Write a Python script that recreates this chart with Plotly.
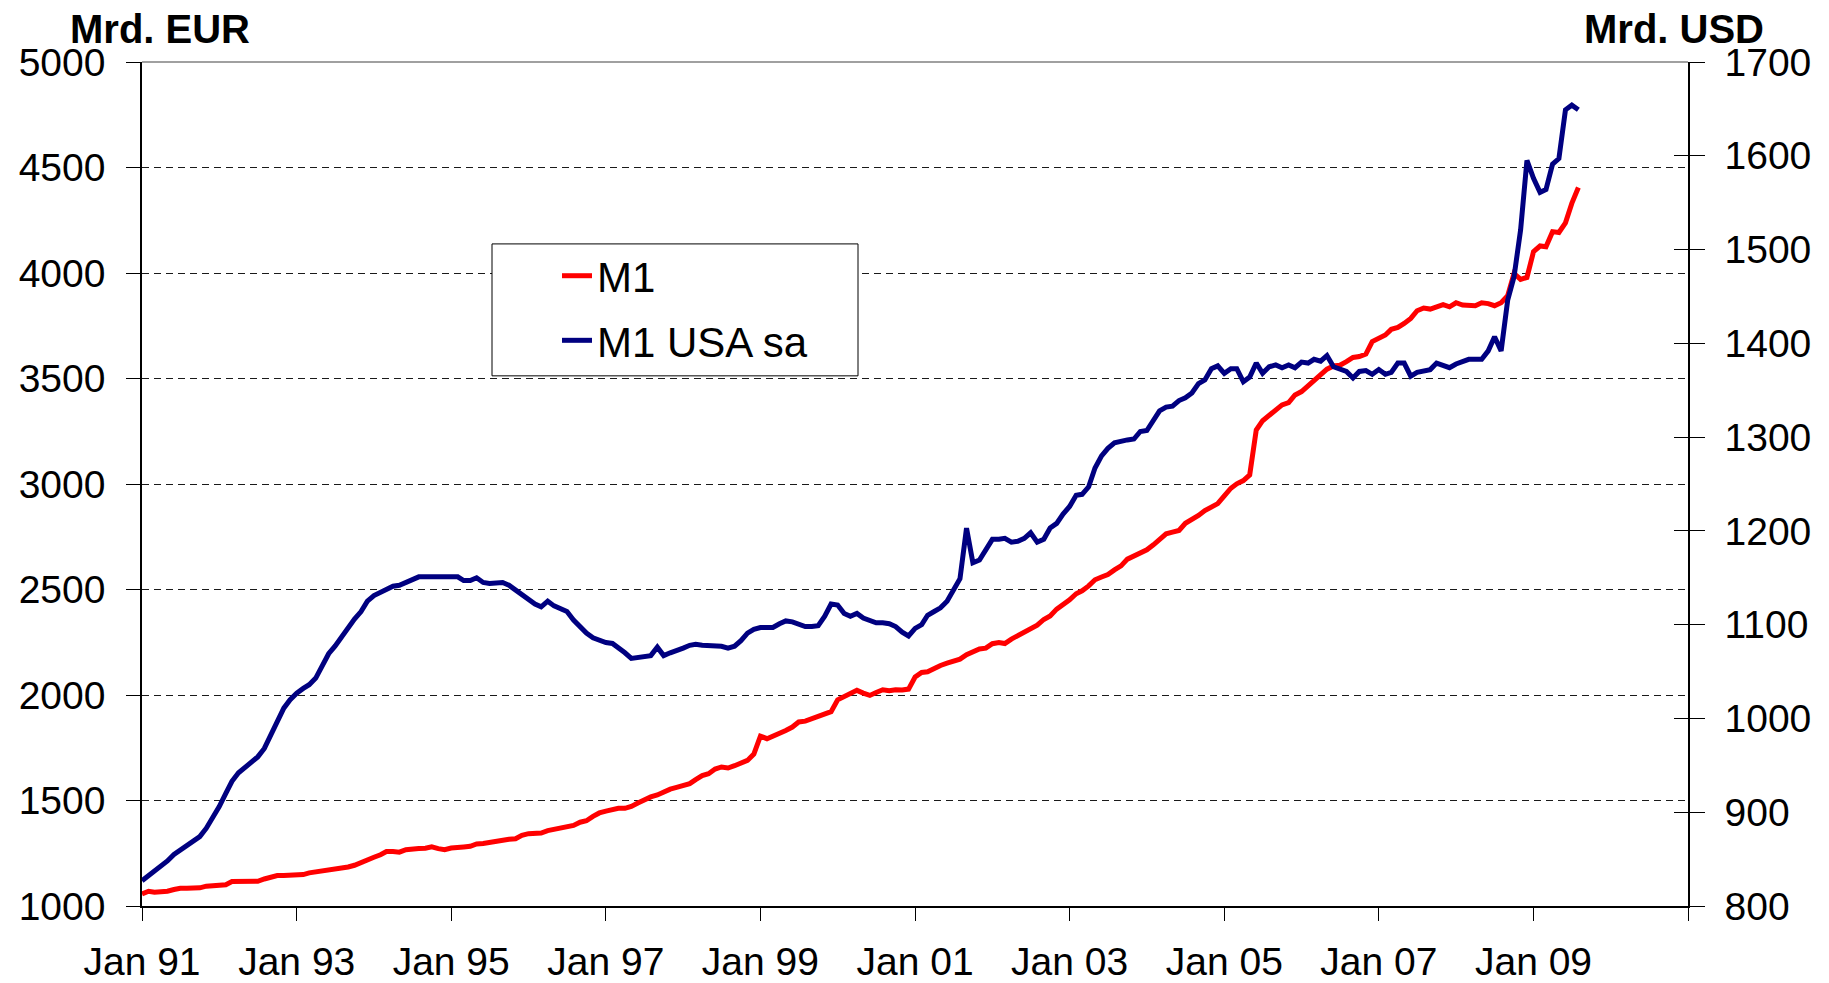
import pandas as pd
import plotly.graph_objects as go

# Monthly values, Jan 1991 .. Aug 2009
m1_eur = [
    1057, 1070, 1065, 1065, 1070, 1078, 1084, 1084, 1084, 1086, 1094, 1098,
    1098, 1101, 1116, 1116, 1112, 1117, 1117, 1128, 1138, 1144, 1144, 1144,
    1144, 1149, 1157, 1161, 1168, 1173, 1173, 1179, 1185, 1193, 1204, 1215,
    1231, 1243, 1258, 1258, 1255, 1267, 1267, 1272, 1274, 1280, 1272, 1267,
    1275, 1280, 1280, 1283, 1294, 1296, 1302, 1307, 1313, 1316, 1319, 1335,
    1343, 1343, 1346, 1357, 1362, 1370, 1376, 1382, 1397, 1404, 1425, 1441,
    1450, 1460, 1463, 1463, 1472, 1488, 1504, 1517, 1526, 1543, 1554, 1562,
    1570, 1580, 1599, 1618, 1627, 1649, 1659, 1654, 1665, 1678, 1690, 1720,
    1805, 1793, 1804, 1820, 1832, 1848, 1872, 1876, 1886, 1899, 1910, 1921,
    1977, 1993, 2006, 2022, 2009, 1998, 2012, 2025, 2020, 2025, 2024, 2028,
    2085, 2107, 2110, 2128, 2140, 2151, 2158, 2170, 2191, 2202, 2218, 2222,
    2243, 2249, 2244, 2265, 2281, 2298, 2314, 2331, 2358, 2375, 2407, 2427,
    2451, 2480, 2494, 2517, 2546, 2559, 2571, 2593, 2612, 2644, 2660, 2669,
    2688, 2712, 2735, 2764, 2772, 2780, 2814, 2830, 2851, 2874, 2893, 2907,
    2944, 2980, 3001, 3016, 3043, 3256, 3300, 3325, 3350, 3375, 3386, 3422,
    3438, 3465, 3485, 3514, 3544, 3559, 3563, 3580, 3600, 3604, 3616, 3675,
    3689, 3706, 3733, 3742, 3761, 3785, 3821, 3834, 3829, 3840, 3850, 3840,
    3859, 3848, 3845, 3845, 3859, 3855, 3845, 3859, 3892, 3998, 3970, 3979,
    4101, 4128, 4124, 4196, 4192, 4238, 4330, 4405,
]

m1_usa = [
    827, 832, 837, 842, 848, 855, 860, 865, 870, 874, 883, 894,
    906, 920, 933, 942, 948, 953, 959, 968, 983, 997, 1011, 1020,
    1027, 1032, 1036, 1043, 1056, 1069, 1077, 1087, 1098, 1106, 1114, 1125,
    1131, 1134, 1138, 1141, 1142, 1145, 1147, 1151, 1151, 1151, 1150, 1151,
    1151, 1151, 1147, 1147, 1150, 1145, 1144, 1145, 1145, 1142, 1137, 1133,
    1127, 1122, 1119, 1125, 1120, 1117, 1114, 1105, 1098, 1091, 1086, 1083,
    1081, 1080, 1076, 1070, 1064, 1065, 1066, 1067, 1076, 1067, 1070, 1072,
    1075, 1078, 1079, 1078, 1078, 1078, 1077, 1075, 1077, 1083, 1091, 1095,
    1097, 1097, 1097, 1101, 1104, 1103, 1100, 1098, 1098, 1099, 1109, 1122,
    1121, 1112, 1109, 1112, 1107, 1104, 1102, 1102, 1101, 1098, 1092, 1088,
    1096, 1100, 1110, 1114, 1118, 1125, 1137, 1149, 1203, 1166, 1169, 1179,
    1191, 1191, 1192, 1188, 1189, 1192, 1198, 1188, 1191, 1203, 1208, 1218,
    1226, 1238, 1239, 1247, 1267, 1280, 1288, 1294, 1296, 1297, 1298, 1306,
    1307, 1319, 1328, 1332, 1333, 1339, 1342, 1347, 1357, 1361, 1373, 1376,
    1368, 1373, 1373, 1359, 1364, 1379, 1368, 1375, 1377, 1374, 1377, 1374,
    1380, 1379, 1383, 1381, 1387, 1375, 1372, 1370, 1363, 1370, 1371, 1367,
    1372, 1367, 1369, 1379, 1379, 1365, 1369, 1371, 1372, 1379, 1376, 1374,
    1378, 1381, 1383, 1383, 1383, 1392, 1407, 1392, 1446, 1471, 1521, 1595,
    1576, 1561, 1564, 1591, 1597, 1649, 1654, 1649,
]

series_names = ["M1", "M1 USA sa"]
series_colors = ["#FF0000", "#000080"]

tick_years = [1991, 1993, 1995, 1997, 1999, 2001, 2003, 2005, 2007, 2009, 2011]
tick_labels = ["Jan 91", "Jan 93", "Jan 95", "Jan 97", "Jan 99", "Jan 01",
               "Jan 03", "Jan 05", "Jan 07", "Jan 09", ""]

left_title = "Mrd. EUR"
right_title = "Mrd. USD"

dates = pd.date_range("1991-01-01", periods=len(m1_eur), freq="MS")
tick_vals = [f"{y}-01-01" for y in tick_years]

FONT = "Liberation Sans, Arial, sans-serif"

# page body has an 8px margin, so the figure starts at (8, 8) in the window
OFF = 8
W, H = 1829 - OFF, 983 - OFF
PLOT_L, PLOT_R, PLOT_T, PLOT_B = 142, 1688, 62, 906.4   # window pixels
PW, PH = PLOT_R - PLOT_L, PLOT_B - PLOT_T


def px(x):
    return (x - PLOT_L) / PW


def py(y):
    return (PLOT_B - y) / PH


fig = go.Figure()
fig.add_trace(go.Scatter(
    x=dates, y=m1_eur, name=series_names[0], mode="lines",
    line=dict(color=series_colors[0], width=5), yaxis="y", legendgroup="a",
))
fig.add_trace(go.Scatter(
    x=dates, y=m1_usa, name=series_names[1], mode="lines",
    line=dict(color=series_colors[1], width=5), yaxis="y2", legendgroup="b",
))
# carrier for the inner half of the right-hand tick marks
fig.add_trace(go.Scatter(x=[None], y=[None], yaxis="y3", showlegend=False,
                         hoverinfo="skip"))

fig.update_layout(
    width=W, height=H,
    margin=dict(l=PLOT_L - OFF, r=(W + OFF) - PLOT_R, t=PLOT_T - OFF,
                b=(H + OFF) - PLOT_B, autoexpand=False),
    paper_bgcolor="white", plot_bgcolor="white",
    font=dict(family=FONT, size=38, color="black"),
    showlegend=True,
    legend=dict(
        x=px(557), y=py(242),
        xanchor="left", yanchor="top",
        bgcolor="rgba(0,0,0,0)", borderwidth=0,
        font=dict(family=FONT, size=42, color="black"),
        tracegroupgap=7,
    ),
    xaxis=dict(
        type="date", automargin=False,
        range=["1991-01-01", "2011-01-01"],
        tickmode="array", tickvals=tick_vals, ticktext=tick_labels,
        ticks="outside", ticklen=13, tickcolor="black", tickwidth=1,
        showline=True, linecolor="black", linewidth=1.5,
        showgrid=False, zeroline=False,
        tickfont=dict(family=FONT, size=39, color="black"),
        ticklabelstandoff=7,
    ),
    yaxis=dict(
        automargin=False,
        range=[1000, 5000], dtick=500, tick0=1000,
        ticks="outside", ticklen=14, tickcolor="black", tickwidth=1,
        showline=True, linecolor="black", linewidth=1.5,
        showgrid=True, gridcolor="#1a1a1a", gridwidth=1, griddash="7px,5px",
        zeroline=False,
        tickfont=dict(family=FONT, size=39, color="black"),
        ticklabelstandoff=13,
    ),
    yaxis2=dict(
        automargin=False,
        range=[800, 1700], dtick=100, tick0=800,
        overlaying="y", side="right", anchor="x",
        ticks="outside", ticklen=15, tickcolor="black", tickwidth=1,
        showline=True, linecolor="black", linewidth=1.5,
        showgrid=False, zeroline=False,
        tickfont=dict(family=FONT, size=39, color="black"),
        ticklabelstandoff=12,
    ),
    yaxis3=dict(
        automargin=False,
        range=[800, 1700], dtick=100, tick0=800,
        overlaying="y", side="right", anchor="x",
        ticks="inside", ticklen=14, tickcolor="black", tickwidth=1,
        showline=False, showgrid=False, zeroline=False,
        showticklabels=False,
    ),
    shapes=[
        # top frame line
        dict(type="line", xref="paper", yref="paper", x0=0, x1=1, y0=1, y1=1,
             line=dict(color="#808080", width=1.5), layer="above"),
        # legend frame
        dict(type="rect", xref="paper", yref="paper",
             x0=px(492), x1=px(858), y0=py(376), y1=py(244),
             line=dict(color="black", width=1), fillcolor="white", layer="above"),
    ],
    annotations=[
        dict(text=f"<b>{left_title}</b>", xref="paper", yref="paper",
             x=px(160), y=1, yshift=33, xanchor="center", yanchor="middle",
             showarrow=False, font=dict(family=FONT, size=40, color="black")),
        dict(text=f"<b>{right_title}</b>", xref="paper", yref="paper",
             x=px(1674), y=1, yshift=33, xanchor="center", yanchor="middle",
             showarrow=False, font=dict(family=FONT, size=40, color="black")),
    ],
)

fig.write_html("out.html")
